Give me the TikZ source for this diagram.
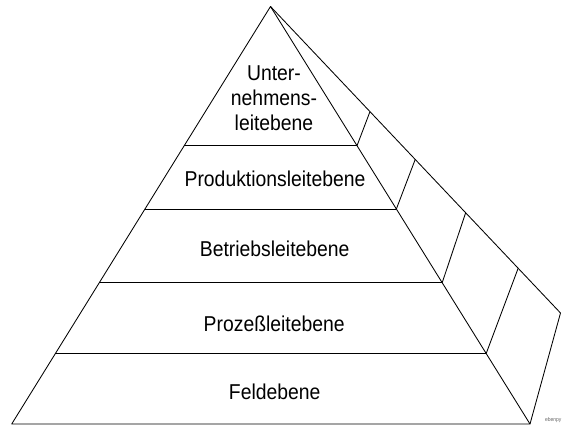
\documentclass[tikz,border=0pt]{standalone}
\usepackage{fontspec}
\setmainfont{Liberation Sans}[FakeStretch=0.9]
\usetikzlibrary{calc}
\begin{document}
\begin{tikzpicture}[x=1pt,y=-1pt,
  edge/.style={line width=0.85pt, black, line join=round},
  level/.style={font=\fontsize{21.5}{25}\selectfont, anchor=base, inner sep=0pt},
  tag/.style={font=\fontsize{5.5}{6}\selectfont, text=black!60, anchor=base east, inner sep=0pt}]
\useasboundingbox (0,0) rectangle (562,425);

% corners of the pyramid
\coordinate (A) at (270.5,6.5);   % apex
\coordinate (L) at (11.7,424);    % front bottom left
\coordinate (R) at (530,424);     % front bottom right
\coordinate (B) at (560.5,313);   % rear bottom right

% level boundaries on the front face and on the side face
\foreach \i/\tf/\tb in {1/0.3334/0.343, 2/0.485/0.499, 3/0.6616/0.673, 4/0.8311/0.854} {
  \coordinate (l\i) at ($(A)!\tf!(L)$);
  \coordinate (r\i) at ($(A)!\tf!(R)$);
  \coordinate (b\i) at ($(A)!\tb!(B)$);
}

% outline
\draw[edge] (L) -- (A) -- (R) -- cycle;
\draw[edge] (A) -- (B) -- (R);

% horizontal level lines and side face dividers
\foreach \i in {1,...,4} {
  \draw[edge] (l\i) -- (r\i);
  \draw[edge] (r\i) -- (b\i);
}

% level names
\node[level] (u1) at (274,80.7) {Unter-};
\node[level] (u2) at (274,105.7) {nehmens-};
\node[level] (u3) at (274,131) {leitebene};
\node[level] (prod) at (275,186.7) {Produktionsleitebene};
\node[level] (betr) at (274.7,256.7) {Betriebsleitebene};
\node[level] (proz) at (274.2,331.7) {Prozeßleitebene};
\node[level] (feld) at (274.7,399.3) {Feldebene};

\node[tag] (sig) at (561.5,421.7) {ebenpy};
\end{tikzpicture}
\end{document}
